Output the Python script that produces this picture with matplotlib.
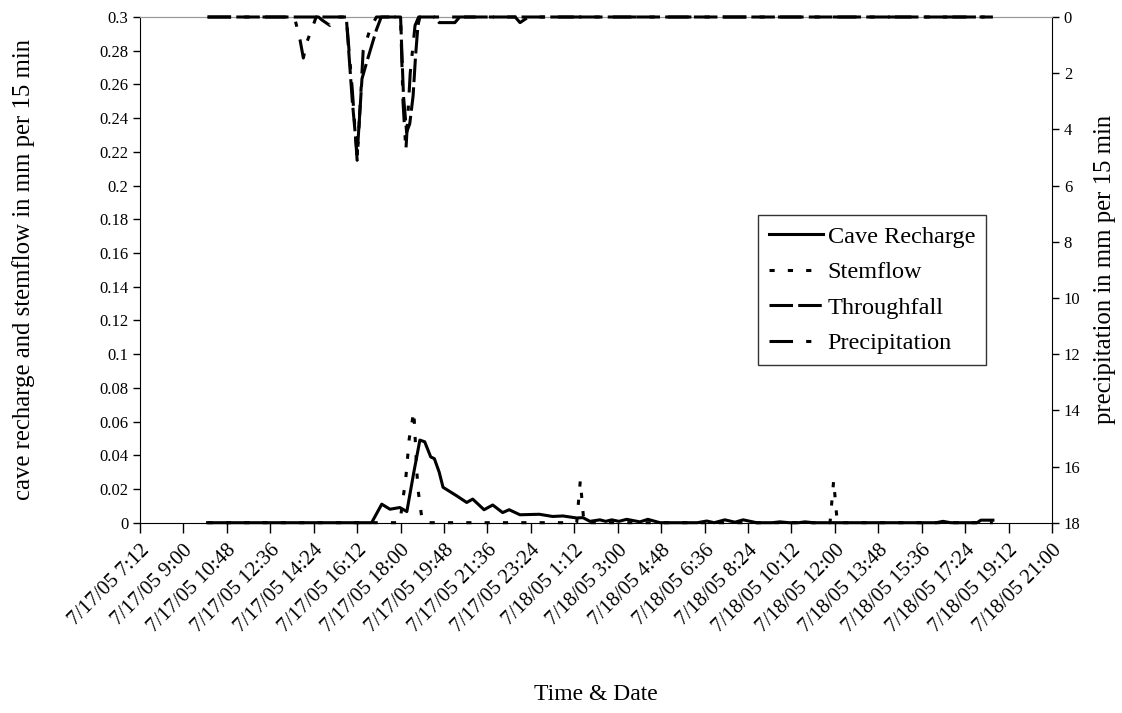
import matplotlib
matplotlib.use("Agg")
import matplotlib.pyplot as plt
import numpy as np

plt.rcParams['font.family'] = ['Liberation Serif', 'DejaVu Serif']

# time in hours since 7/17/05 0:00
cave_t = [10.0, 16.8, 17.22, 17.56, 17.97, 18.26, 18.55, 18.8, 19.0, 19.25, 19.4, 19.6, 19.76,
          20.32, 20.74, 20.99, 21.46, 21.82, 22.23, 22.5, 22.95, 23.75, 24.3, 24.73, 25.3, 25.56,
          25.85, 26.26, 26.5, 26.75, 27.05, 27.37, 27.92, 28.25, 28.75, 30.3, 30.69, 31.0, 31.44,
          31.86, 32.2, 32.76, 33.4, 33.72, 34.1, 34.5, 34.76, 35.1, 40.2, 40.48, 40.8, 41.9, 42.05,
          42.3, 42.55]
cave_v = [0, 0, 0.011, 0.008, 0.009, 0.0066, 0.03, 0.049, 0.048, 0.039, 0.038, 0.03, 0.021,
          0.016, 0.012, 0.014, 0.0077, 0.0105, 0.006, 0.0077, 0.0047, 0.005, 0.0037, 0.004, 0.0028, 0.003,
          0.0008, 0.0017, 0.0008, 0.0017, 0.0008, 0.002, 0.0005, 0.002, 0, 0, 0.001, 0, 0.0017,
          0.0003, 0.0017, 0, 0, 0.0005, 0, 0, 0.0005, 0, 0, 0.0008, 0, 0, 0.0015,
          0.0015, 0.0015]

stem_t = [10.0, 17.97, 18.22, 18.36, 18.55, 18.67, 18.73, 18.87, 19.0, 25.3, 25.45, 25.6,
          35.8, 35.95, 36.1, 42.55]
stem_v = [0, 0, 0.027, 0.05, 0.066, 0.031, 0.019, 0.004, 0, 0, 0.025, 0,
          0, 0.025, 0, 0]

thru_t = [10.0, 15.75, 16.0, 16.2, 16.4, 16.6, 17.0, 17.2, 18.0, 18.12, 18.25, 18.38, 18.52,
          18.62, 18.72, 18.8, 19.4, 19.6, 20.25, 20.45, 42.55]
thru_v = [0, 0, 3.0, 4.9, 2.2, 1.6, 0.45, 0, 0, 2.8, 4.1, 3.8, 2.8,
          1.4, 0.3, 0, 0, 0.2, 0.2, 0, 0]

prec_t = [10.0, 13.6, 13.83, 13.97, 14.1, 14.38, 14.5, 14.6, 14.73, 15.07, 15.3, 15.75, 16.0,
          16.2, 16.45, 16.75, 17.0, 18.0, 18.1, 18.22, 18.4, 18.6, 18.75, 22.75, 22.95, 23.3, 42.55]
prec_v = [0, 0, 0.8, 1.46, 0.93, 0.29, 0, 0, 0.1, 0.3, 0, 0, 2.6,
          5.1, 1.2, 0.4, 0, 0, 3.0, 4.75, 2.0, 0.3, 0, 0, 0.2, 0, 0]

x_ticks = [7.2 + 1.8 * i for i in range(22)]
x_labels = ["7/17/05 7:12", "7/17/05 9:00", "7/17/05 10:48", "7/17/05 12:36", "7/17/05 14:24",
            "7/17/05 16:12", "7/17/05 18:00", "7/17/05 19:48", "7/17/05 21:36", "7/17/05 23:24",
            "7/18/05 1:12", "7/18/05 3:00", "7/18/05 4:48", "7/18/05 6:36", "7/18/05 8:24",
            "7/18/05 10:12", "7/18/05 12:00", "7/18/05 13:48", "7/18/05 15:36", "7/18/05 17:24",
            "7/18/05 19:12", "7/18/05 21:00"]
left_ticks = [0, 0.02, 0.04, 0.06, 0.08, 0.1, 0.12, 0.14, 0.16, 0.18, 0.2, 0.22, 0.24, 0.26, 0.28, 0.3]
left_labels = ["0", "0.02", "0.04", "0.06", "0.08", "0.1", "0.12", "0.14", "0.16", "0.18", "0.2",
               "0.22", "0.24", "0.26", "0.28", "0.3"]
right_ticks = [0, 2, 4, 6, 8, 10, 12, 14, 16, 18]

fig = plt.figure(figsize=(11.22, 7.13), dpi=100)
ax = fig.add_axes([140/1122, 1 - 522.7/713, 912/1122, (522.7 - 17)/713])
ax2 = ax.twinx()

lw = 2.2
l1, = ax.plot(cave_t, cave_v, color='black', lw=lw, solid_joinstyle='round', clip_on=False, zorder=3)
l2, = ax.plot(stem_t, stem_v, color='black', lw=lw, linestyle=(0, (1.7, 4.3)), clip_on=False, zorder=3)
l3, = ax2.plot(thru_t, thru_v, color='black', lw=lw, linestyle=(0, (7.7, 1.7)), clip_on=False, zorder=3)
l4, = ax2.plot(prec_t, prec_v, color='black', lw=lw, linestyle=(0, (7.7, 4.3, 1.7, 4.3)), clip_on=False, zorder=3)

ax.set_xlim(7.2, 45.0)
ax.set_ylim(0, 0.3)
ax2.set_ylim(18, 0)

ax.set_xticks(x_ticks)
ax.set_xticklabels(x_labels, rotation=45, ha='right', va='top', rotation_mode='anchor', fontsize=15)
ax.set_yticks(left_ticks)
ax.set_yticklabels(left_labels, fontsize=12)
ax2.set_yticks(right_ticks)
ax2.set_yticklabels([str(v) for v in right_ticks], fontsize=12)

for a in (ax, ax2):
    a.tick_params(direction='out', length=5, width=1, color='black')
ax.tick_params(axis='x', length=7, pad=6)

for s in ('left', 'bottom'):
    ax.spines[s].set_color('black')
for s in ('top',):
    ax.spines[s].set_color('#999999')
    ax2.spines[s].set_color('#999999')
ax2.spines['right'].set_color('black')
ax.spines['right'].set_visible(False)
ax2.spines['left'].set_visible(False)
ax2.spines['bottom'].set_visible(False)

ax.set_xlabel("Time & Date", fontsize=17, labelpad=34)
ax.set_ylabel("cave recharge and stemflow in mm per 15 min", fontsize=17.8, labelpad=46)
ax2.set_ylabel("precipitation in mm per 15 min", fontsize=17.8, labelpad=10)

leg = ax.legend([l1, l2, l3, l4], ["Cave Recharge", "Stemflow", "Throughfall", "Precipitation"],
                loc='upper left', bbox_to_anchor=(0.678, 0.6085), fontsize=17.5, frameon=True,
                fancybox=False, edgecolor='black', handlelength=2.2, handletextpad=0.2,
                borderpad=0.45, labelspacing=0.55, borderaxespad=0)
leg.get_frame().set_linewidth(1.0)
leg.set_zorder(5)

fig.savefig("out.png", dpi=100)
